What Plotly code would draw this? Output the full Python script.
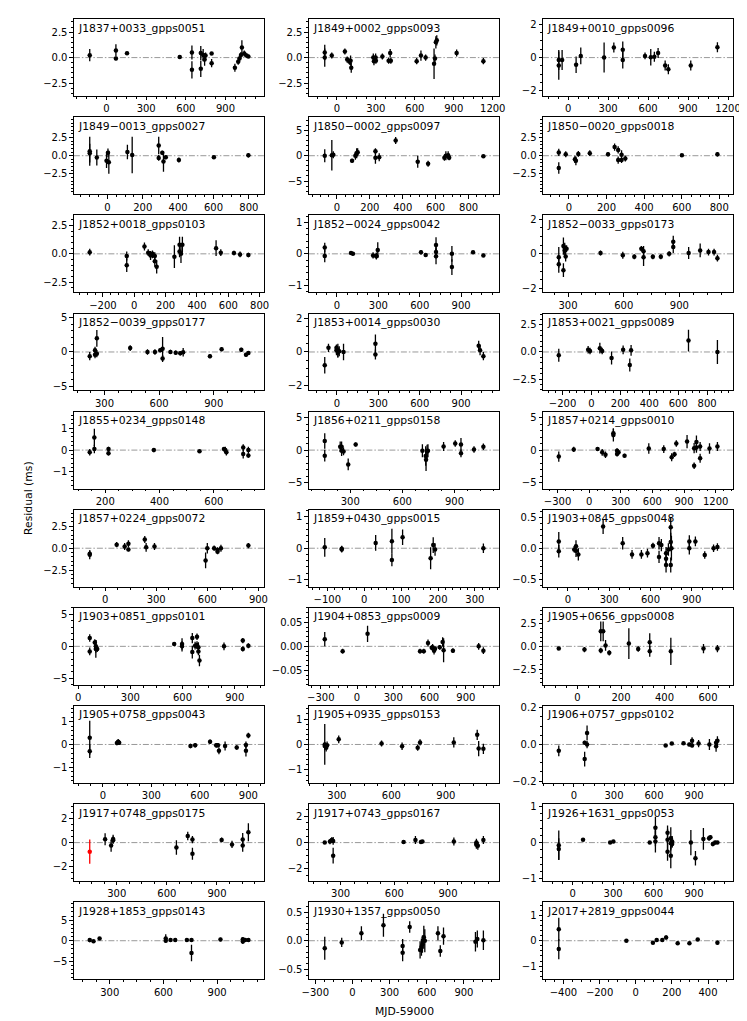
import math
import plotly.graph_objects as go

names = ["J1837+0033_gpps0051", "J1849+0002_gpps0093", "J1849+0010_gpps0096",
         "J1849\u22120013_gpps0027", "J1850\u22120002_gpps0097", "J1850\u22120020_gpps0018",
         "J1852+0018_gpps0103", "J1852\u22120024_gpps0042", "J1852\u22120033_gpps0173",
         "J1852\u22120039_gpps0177", "J1853+0014_gpps0030", "J1853+0021_gpps0089",
         "J1855+0234_gpps0148", "J1856+0211_gpps0158", "J1857+0214_gpps0010",
         "J1857+0224_gpps0072", "J1859+0430_gpps0015", "J1903+0845_gpps0048",
         "J1903+0851_gpps0101", "J1904+0853_gpps0009", "J1905+0656_gpps0008",
         "J1905+0758_gpps0043", "J1905+0935_gpps0153", "J1906+0757_gpps0102",
         "J1917+0748_gpps0175", "J1917+0743_gpps0167", "J1926+1631_gpps0053",
         "J1928+1853_gpps0143", "J1930+1357_gpps0050", "J2017+2819_gpps0044"]

x01 = [-127, 71, 71, 155, 554, 646, 646, 713, 713, 731, 742, 749, 795, 795, 971, 996, 1006, 1017, 1024, 1042, 1059, 1073]
y01 = [0.24, 0.7, -0.1, 0.43, 0.05, 0.5, -1.2, 0.45, -1.1, 0.25, -0.2, 0.2, 0.4, -0.55, -1.0, -0.4, -0.1, 0.25, 1.0, 0.4, 0.2, 0.1]
e01 = [0.6, 0.6, 0.15, 0.15, 0.15, 0.7, 0.85, 0.7, 0.8, 0.6, 0.6, 0.3, 0.15, 0.4, 0.4, 0.3, 0.3, 0.3, 0.7, 0.3, 0.2, 0.15]

x02 = [-94, -94, -40, 61, 79, 97, 105, 110, 280, 285, 298, 300, 350, 398, 410, 415, 614, 647, 683, 748, 755, 762, 769, 922, 1128]
y02 = [0.5, 0.0, 0.2, 0.6, -0.2, -0.4, -0.3, -1.0, 0.0, -0.35, 0.0, -0.3, 0.1, -0.3, 0.45, -0.3, -0.35, 0.2, 0.0, -0.6, -0.1, 1.5, 1.7, 0.45, -0.35]
e02 = [0.75, 0.9, 0.3, 0.3, 0.3, 0.3, 0.5, 0.5, 0.4, 0.4, 0.4, 0.3, 0.3, 0.3, 0.4, 0.3, 0.3, 0.5, 0.3, 1.5, 0.4, 0.6, 0.5, 0.35, 0.3]

x03 = [-70, -70, -45, 60, 95, 270, 343, 410, 410, 577, 620, 647, 675, 728, 752, 920, 1120]
y03 = [-0.48, -0.14, -0.14, -0.43, 0.1, 0.0, 0.6, 0.47, -0.15, 0.1, 0.02, 0.05, 0.27, -0.48, -0.7, -0.47, 0.62]
e03 = [0.85, 0.6, 0.6, 0.5, 0.5, 0.9, 0.3, 0.5, 0.5, 0.2, 0.5, 0.3, 0.3, 0.3, 0.3, 0.3, 0.3]

x04 = [-100, -100, -60, -5, 3, 8, 113, 140, 290, 290, 310, 317, 330, 404, 602, 797]
y04 = [0.6, 0.35, -0.25, -0.7, 0.4, -0.9, 0.5, 0.1, 1.4, -0.3, 0.4, -0.8, -0.2, -0.6, -0.2, 0.05]
e04 = [2.0, 1.3, 1.1, 1.0, 0.6, 1.6, 1.0, 2.5, 1.2, 0.4, 0.3, 1.4, 0.3, 0.35, 0.2, 0.3]

x05 = [-74, -31, -22, 92, 112, 120, 126, 234, 234, 257, 357, 491, 554, 653, 662, 676, 682, 890]
y05 = [0.0, 0.1, 0.2, -1.0, 0.0, 0.5, 0.7, 0.9, -0.4, -0.3, 3.0, -1.2, -1.6, -0.4, 0.0, 0.1, -0.4, -0.1]
e05 = [1.3, 3.0, 0.7, 0.4, 0.8, 1.0, 0.8, 0.6, 1.2, 0.8, 0.7, 1.2, 0.6, 0.6, 0.9, 0.8, 0.5, 0.3]

x06 = [-54, -54, -17, 32, 37, 50, 111, 208, 243, 262, 262, 280, 280, 300, 601, 790]
y06 = [0.45, -1.7, 0.2, -0.5, -0.7, 0.25, 0.35, 0.2, 1.2, 0.8, -0.6, 0.15, -0.6, -0.4, 0.05, 0.2]
e06 = [0.5, 0.8, 0.4, 0.5, 0.6, 0.4, 0.4, 0.3, 0.5, 0.5, 0.5, 0.6, 0.4, 0.4, 0.15, 0.3]

x07 = [-284, -48, -48, 65, 89, 104, 116, 116, 131, 131, 143, 256, 289, 289, 298, 307, 522, 552, 636, 675, 728]
y07 = [0.15, -0.2, -1.0, 0.65, 0.1, -0.15, 0.0, -0.1, -0.2, -0.65, -1.15, -0.25, 0.8, 0.2, 0.0, 0.8, 0.5, 0.1, 0.08, -0.05, -0.1]
e07 = [0.3, 0.4, 0.6, 0.35, 0.3, 0.4, 0.3, 0.3, 0.35, 0.5, 0.6, 1.0, 0.7, 0.5, 0.8, 0.7, 0.7, 0.3, 0.2, 0.25, 0.2]

x08 = [-88, -88, 102, 116, 262, 286, 286, 296, 609, 643, 718, 718, 718, 833, 833, 986, 1061]
y08 = [0.2, -0.07, 0.03, 0.0, -0.05, -0.08, -0.06, 0.12, 0.05, -0.04, 0.28, 0.06, -0.08, 0.0, -0.42, 0.05, -0.05]
e08 = [0.15, 0.2, 0.05, 0.05, 0.1, 0.1, 0.1, 0.25, 0.07, 0.05, 0.25, 0.2, 0.25, 0.25, 0.25, 0.05, 0.05]

x09 = [250, 250, 275, 275, 282, 282, 287, 292, 475, 595, 657, 695, 707, 707, 757, 800, 845, 867, 867, 950, 1012, 1057, 1087, 1105]
y09 = [-0.2, -0.6, 0.45, -0.95, 0.35, 0.2, -0.15, 0.3, 0.05, -0.08, -0.17, 0.3, 0.15, -0.2, -0.17, -0.17, 0.0, 0.4, 0.7, 0.05, 0.2, 0.1, 0.1, -0.25]
e09 = [0.6, 0.5, 0.5, 0.4, 0.3, 0.3, 0.3, 0.2, 0.15, 0.2, 0.15, 0.15, 0.3, 0.5, 0.15, 0.15, 0.15, 0.35, 0.35, 0.35, 0.4, 0.2, 0.2, 0.2]

x10 = [219, 248, 248, 258, 258, 441, 536, 577, 606, 619, 619, 662, 691, 716, 732, 879, 943, 1051, 1077, 1090]
y10 = [-0.6, 0.25, -0.4, 1.95, -0.25, 0.55, 0.0, 0.0, 0.25, 0.45, -0.95, 0.0, -0.1, -0.2, -0.05, -0.6, 0.4, 0.3, -0.4, -0.15]
e10 = [0.6, 0.5, 0.5, 1.2, 0.5, 0.4, 0.4, 0.4, 0.3, 1.7, 0.5, 0.3, 0.3, 0.3, 0.6, 0.3, 0.3, 0.3, 0.3, 0.3]

x11 = [-88, -61, -3, -3, 7, 7, 17, 48, 279, 279, 1027, 1037, 1061]
y11 = [-0.8, 0.25, 0.1, 0.25, -0.05, 0.1, 0.05, 0.0, 0.5, -0.15, 0.37, 0.1, -0.25]
e11 = [0.5, 0.25, 0.3, 0.2, 0.3, 0.4, 0.3, 0.5, 0.55, 0.3, 0.3, 0.3, 0.25]

x12 = [-226, -23, -10, 58, 74, 139, 219, 265, 274, 671, 871]
y12 = [-0.3, 0.2, 0.1, 0.35, 0.1, -0.55, 0.2, -1.2, 0.15, 1.05, 0.0]
e12 = [0.6, 0.35, 0.3, 0.5, 0.3, 0.6, 0.4, 0.6, 0.5, 1.0, 1.1]

x13 = [143, 160, 160, 212, 212, 379, 547, 637, 642, 646, 708, 708, 727, 727]
y13 = [-0.1, 0.58, 0.05, 0.05, -0.15, 0.0, -0.05, 0.05, 0.0, -0.1, 0.12, -0.18, 0.0, -0.25]
e13 = [0.15, 0.4, 0.2, 0.1, 0.1, 0.1, 0.07, 0.07, 0.15, 0.15, 0.15, 0.2, 0.15, 0.1]

x14 = [153, 153, 242, 250, 250, 261, 288, 331, 715, 734, 736, 742, 747, 837, 904, 937, 937, 1012, 1066]
y14 = [-0.85, 1.4, 0.5, 0.5, -0.1, -0.2, -2.2, 0.85, -0.1, -0.9, -1.5, -0.2, -0.1, 0.55, 1.0, 0.85, -0.5, 0.1, 0.5]
e14 = [0.9, 1.2, 0.8, 0.8, 0.8, 0.6, 0.9, 0.3, 1.0, 1.5, 1.7, 1.0, 1.0, 0.7, 0.5, 1.0, 0.6, 0.5, 0.5]

x15 = [-288, -146, 80, 124, 155, 230, 230, 265, 265, 279, 336, 566, 708, 783, 810, 827, 929, 996, 996, 1018, 1018, 1053, 1053, 1142, 1217]
y15 = [-1.0, 0.1, 0.15, -0.35, -0.7, 2.6, 2.3, -0.6, -0.1, -0.35, -0.85, 0.25, 0.15, -1.1, -0.65, 1.0, 1.3, 0.3, -2.4, 1.25, 0.4, 0.55, -1.25, 0.25, 0.55]
e15 = [0.8, 0.4, 0.3, 0.5, 0.5, 0.7, 1.0, 0.4, 0.4, 0.4, 0.3, 0.8, 0.6, 0.6, 0.4, 0.5, 1.0, 0.8, 0.5, 1.0, 0.8, 0.7, 0.7, 0.8, 0.7]

x16 = [-90, -90, 68, 115, 137, 137, 233, 241, 290, 590, 600, 640, 660, 660, 680, 841]
y16 = [-0.64, -0.75, 0.4, 0.2, 0.5, -0.15, 1.0, 0.1, 0.2, -1.4, 0.0, 0.0, -0.4, -0.2, 0.0, 0.3]
e16 = [0.4, 0.5, 0.3, 0.4, 0.4, 0.2, 0.4, 0.5, 0.4, 0.9, 0.6, 0.3, 0.3, 0.3, 0.4, 0.3]

x17 = [-107, -61, -61, 31, 75, 75, 104, 180, 187, 192, 323]
y17 = [0.03, -0.02, -0.04, 0.17, 0.22, -0.38, 0.35, -0.32, 0.1, -0.04, 0.0]
e17 = [0.3, 0.1, 0.1, 0.25, 0.4, 0.2, 0.25, 0.35, 0.25, 0.2, 0.15]

x18 = [-66, -66, 46, 59, 59, 76, 256, 398, 466, 534, 578, 618, 662, 662, 679, 713, 713, 713, 730, 747, 747, 747, 752, 882, 882, 926, 994, 1058, 1086]
y18 = [0.11, -0.05, -0.02, 0.03, -0.04, -0.1, 0.35, 0.08, -0.1, -0.1, -0.08, 0.04, 0.08, -0.14, 0.05, -0.08, -0.17, -0.27, -0.02, 0.1, -0.27, 0.34, 0.0, 0.11, 0.0, 0.11, -0.11, 0.0, 0.02]
e18 = [0.15, 0.1, 0.05, 0.1, 0.1, 0.1, 0.12, 0.1, 0.07, 0.07, 0.07, 0.05, 0.1, 0.1, 0.1, 0.1, 0.12, 0.12, 0.1, 0.15, 0.12, 0.15, 0.2, 0.1, 0.1, 0.08, 0.06, 0.06, 0.06]

x19 = [67, 67, 96, 102, 102, 110, 552, 597, 597, 656, 656, 672, 683, 683, 691, 691, 697, 838, 946, 946, 978]
y19 = [1.3, -0.8, 0.6, 0.0, -0.4, -0.4, 0.35, 0.35, 0.0, 1.3, -0.9, 0.1, 1.5, 0.2, -0.15, -0.8, -2.2, 0.0, 0.9, -0.4, 0.1]
e19 = [0.6, 0.6, 0.5, 1.0, 1.4, 0.5, 0.3, 0.9, 0.8, 0.8, 1.0, 0.6, 0.5, 0.6, 0.8, 0.6, 0.9, 0.6, 0.4, 0.4, 0.4]

x20 = [-267, -119, 87, 521, 552, 587, 618, 625, 637, 645, 684, 708, 716, 793, 1006, 1045]
y20 = [0.015, -0.01, 0.026, -0.01, -0.01, 0.007, -0.003, -0.002, -0.009, -0.005, -0.002, 0.009, -0.008, -0.009, 0.0, -0.009]
e20 = [0.015, 0.005, 0.017, 0.005, 0.005, 0.007, 0.005, 0.007, 0.008, 0.005, 0.005, 0.01, 0.025, 0.005, 0.007, 0.007]

x21 = [-86, 32, 107, 107, 118, 129, 146, 236, 279, 332, 332, 429, 579, 643]
y21 = [-0.25, -0.36, 1.65, -0.45, 1.65, 0.1, -0.72, 0.3, -0.3, 0.45, -0.55, -0.55, -0.25, -0.25]
e21 = [0.15, 0.3, 1.1, 0.3, 1.1, 0.6, 0.3, 1.7, 0.3, 1.0, 0.6, 1.5, 0.5, 0.4]

x22 = [-81, -81, 87, 95, 101, 542, 571, 663, 701, 712, 718, 756, 828, 885, 885, 900]
y22 = [0.3, -0.3, 0.07, 0.12, 0.08, -0.07, -0.03, 0.12, -0.04, -0.03, -0.28, -0.07, -0.13, -0.02, -0.28, 0.4]
e22 = [0.75, 0.3, 0.1, 0.12, 0.1, 0.1, 0.1, 0.1, 0.1, 0.1, 0.15, 0.2, 0.1, 0.15, 0.25, 0.12]

x23 = [233, 233, 241, 246, 310, 546, 659, 745, 758, 944, 1073, 1081, 1107]
y23 = [0.0, -0.06, -0.13, -0.03, 0.2, 0.04, -0.07, -0.13, 0.08, 0.08, 0.38, -0.16, -0.17]
e23 = [0.8, 0.15, 0.15, 0.15, 0.15, 0.12, 0.15, 0.12, 0.12, 0.2, 0.2, 0.3, 0.2]

x24 = [-114, 80, 80, 98, 98, 687, 733, 821, 864, 885, 885, 934, 1015, 1065, 1065, 1075]
y24 = [-0.035, 0.01, -0.08, 0.063, 0.0, -0.005, 0.005, 0.006, 0.0, 0.02, -0.005, 0.005, 0.0, -0.01, 0.01, 0.02]
e24 = [0.03, 0.01, 0.04, 0.04, 0.02, 0.005, 0.005, 0.005, 0.01, 0.02, 0.01, 0.02, 0.03, 0.03, 0.02, 0.025]

x25 = [230, 266, 278, 278, 657, 725, 753, 753, 928, 990, 1054, 1054, 1088]
y25 = [0.28, -0.25, 0.3, 0.2, -0.4, 0.55, 0.25, -0.92, 0.22, -0.15, -0.25, 0.25, 0.85]
e25 = [0.5, 0.5, 0.35, 0.3, 0.6, 0.35, 0.3, 0.5, 0.2, 0.3, 0.5, 0.55, 0.75]
x25_red = [138]
y25_red = [-0.75]
e25_red = [1.0]

x26 = [211, 240, 250, 258, 258, 652, 718, 749, 757, 933, 1059, 1059, 1059, 1067, 1098]
y26 = [0.0, 0.08, 0.2, 0.13, -1.0, 0.05, 0.2, 0.05, 0.08, 0.08, 0.0, -0.1, -0.17, -0.25, 0.2]
e26 = [0.1, 0.2, 0.2, 0.3, 0.6, 0.1, 0.3, 0.1, 0.1, 0.3, 0.3, 0.3, 0.3, 0.3, 0.3]

x27 = [-103, -103, 77, 278, 302, 572, 614, 614, 614, 704, 704, 704, 728, 728, 728, 738, 738, 877, 911, 970, 1012, 1022, 1040, 1057, 1074]
y27 = [-0.07, -0.18, 0.08, 0.0, 0.03, 0.0, 0.41, 0.15, 0.03, 0.27, 0.08, -0.25, 0.12, -0.36, -0.02, 0.03, -0.04, 0.0, -0.43, 0.1, 0.12, 0.15, -0.04, 0.0, 0.0]
e27 = [0.4, 0.3, 0.03, 0.03, 0.03, 0.03, 0.3, 0.25, 0.3, 0.2, 0.3, 0.25, 0.3, 0.35, 0.2, 0.15, 0.1, 0.35, 0.2, 0.3, 0.07, 0.05, 0.06, 0.05, 0.04]

x28 = [188, 209, 243, 613, 613, 640, 666, 731, 757, 757, 919, 1044, 1044, 1057, 1075]
y28 = [0.15, -0.1, 0.55, 0.55, 0.0, 0.15, 0.15, 0.15, 0.15, -3.0, 0.3, 0.35, -0.2, 0.15, 0.2]
e28 = [0.5, 0.3, 0.3, 1.0, 0.4, 0.3, 0.3, 0.3, 0.3, 2.0, 0.4, 0.5, 0.6, 0.3, 0.3]

x29 = [-224, -87, 72, 250, 405, 405, 462, 546, 557, 565, 576, 584, 690, 709, 735, 993, 1008, 1057]
y29 = [-0.13, -0.03, 0.13, 0.27, -0.09, -0.21, 0.24, -0.16, -0.11, -0.06, 0.06, 0.0, 0.13, -0.18, 0.08, -0.02, 0.03, 0.01]
e29 = [0.2, 0.08, 0.12, 0.2, 0.12, 0.15, 0.1, 0.15, 0.15, 0.15, 0.2, 0.2, 0.12, 0.1, 0.15, 0.17, 0.15, 0.17]

x30 = [-426, -426, -52, 95, 116, 147, 168, 232, 297, 343, 452]
y30 = [0.45, -0.33, 0.0, -0.08, 0.03, 0.03, 0.13, -0.1, -0.1, 0.05, -0.08]
e30 = [0.45, 0.4, 0.05, 0.06, 0.08, 0.08, 0.08, 0.07, 0.07, 0.05, 0.08]

# symmetric y-limits, major y tick step and x tick labels for each panel
ylims = [3.78, 3.78, 2.31, 5.3, 7.6, 5.3, 3.4, 1.22, 2.23, 5.5, 2.31, 3.55, 1.76, 5.9, 5.9,
         4.4, 1.23, 0.62, 6.0, 0.080, 4.24, 1.7, 1.51, 0.21, 3.17, 2.93, 1.06, 9.35, 0.67, 1.51]
ysteps = [2.5, 2.5, 2, 2.5, 5, 2.5, 2.5, 1, 2, 5, 2, 2.5, 1, 5, 5,
          2.5, 1, 0.5, 5, 0.05, 2.5, 1, 1, 0.2, 2, 2, 1, 5, 0.5, 1]
xticks = [[0, 300, 600, 900], [0, 300, 600, 900, 1200], [0, 300, 600, 900, 1200],
          [0, 200, 400, 600, 800], [0, 200, 400, 600, 800], [0, 200, 400, 600, 800],
          [-200, 0, 200, 400, 600, 800], [0, 300, 600, 900], [300, 600, 900],
          [300, 600, 900], [0, 300, 600, 900], [-200, 0, 200, 400, 600, 800],
          [200, 400, 600], [300, 600, 900], [-300, 0, 300, 600, 900, 1200],
          [0, 300, 600, 900], [-100, 0, 100, 200, 300], [0, 300, 600, 900],
          [0, 300, 600, 900], [-300, 0, 300, 600, 900], [0, 200, 400, 600],
          [0, 300, 600, 900], [300, 600, 900], [0, 300, 600, 900],
          [300, 600, 900], [300, 600, 900], [0, 300, 600, 900],
          [300, 600, 900], [-300, 0, 300, 600, 900], [-400, -200, 0, 200, 400]]

X = [x01, x02, x03, x04, x05, x06, x07, x08, x09, x10, x11, x12, x13, x14, x15,
     x16, x17, x18, x19, x20, x21, x22, x23, x24, x25, x26, x27, x28, x29, x30]
Y = [y01, y02, y03, y04, y05, y06, y07, y08, y09, y10, y11, y12, y13, y14, y15,
     y16, y17, y18, y19, y20, y21, y22, y23, y24, y25, y26, y27, y28, y29, y30]
E = [e01, e02, e03, e04, e05, e06, e07, e08, e09, e10, e11, e12, e13, e14, e15,
     e16, e17, e18, e19, e20, e21, e22, e23, e24, e25, e26, e27, e28, e29, e30]

W, H = 747, 1021
col_px = [(60, 254), (299.5, 493.5), (538, 732)]
row_top0, row_pitch, row_h = 7.2, 98.9, 77.5
FONT = "DejaVu Sans"


def minor_step(step):
    m = 10 ** (math.log10(step) % 1)
    nd = 5 if any(abs(m - v) < 1e-6 for v in (1.0, 2.5, 5.0, 10.0)) else 4
    return step / nd


fig = go.Figure()
layout = {}
shapes = []
annotations = []

for i in range(30):
    r, c = divmod(i, 3)
    nm = "" if i == 0 else str(i + 1)
    xs, ys, es = list(X[i]), list(Y[i]), list(E[i])
    allx = xs + (x25_red if i == 24 else [])
    lo, hi = min(allx), max(allx)
    pad = 0.1 * (hi - lo)

    fig.add_trace(go.Scatter(
        x=xs, y=ys, mode="markers",
        marker=dict(color="black", size=4.5),
        error_y=dict(type="data", array=es, visible=True, color="black",
                     thickness=1.3, width=0),
        xaxis="x" + nm, yaxis="y" + nm, showlegend=False, hoverinfo="skip"))
    if i == 24:
        fig.add_trace(go.Scatter(
            x=x25_red, y=y25_red, mode="markers",
            marker=dict(color="red", size=4.5),
            error_y=dict(type="data", array=e25_red, visible=True, color="red",
                         thickness=1.3, width=0),
            xaxis="x" + nm, yaxis="y" + nm, showlegend=False, hoverinfo="skip"))

    x0, x1 = col_px[c]
    top = row_top0 + r * row_pitch
    bot = top + row_h
    xstep = xticks[i][1] - xticks[i][0]
    ystep = ysteps[i]
    yl = ylims[i]
    if ystep in (2.5, 0.5, 0.2):
        yfmt = ".1f"
    elif ystep == 0.05:
        yfmt = ".2f"
    else:
        yfmt = "d"
    yvals = [-ystep, 0, ystep]

    common = dict(showline=True, mirror=True, linecolor="black", linewidth=0.8,
                  ticks="outside", ticklen=3.5, tickwidth=0.8, tickcolor="black",
                  showgrid=False, zeroline=False,
                  tickfont=dict(family=FONT, size=10, color="black"))
    layout["xaxis" + nm] = dict(
        domain=[x0 / W, x1 / W], anchor="y" + nm,
        range=[lo - pad, hi + pad], tickmode="array", tickvals=xticks[i],
        minor=dict(ticks="outside", ticklen=2, tickwidth=0.6, tickcolor="black",
                   tickmode="linear", tick0=0, dtick=minor_step(xstep), showgrid=False),
        **common)
    layout["yaxis" + nm] = dict(
        domain=[1 - bot / H, 1 - top / H], anchor="x" + nm,
        range=[-yl, yl], tickmode="array", tickvals=yvals, tickformat=yfmt,
        minor=dict(ticks="outside", ticklen=2, tickwidth=0.6, tickcolor="black",
                   tickmode="linear", tick0=0, dtick=minor_step(ystep), showgrid=False),
        **common)

    shapes.append(dict(type="line", xref="x" + nm + " domain", yref="y" + nm,
                       x0=0, x1=1, y0=0, y1=0, layer="below",
                       line=dict(color="#999999", width=1, dash="6px,2px,1.5px,2px")))
    annotations.append(dict(text=names[i], xref="x" + nm + " domain",
                            yref="y" + nm + " domain", x=0.012, y=0.995,
                            xanchor="left", yanchor="top", showarrow=False,
                            font=dict(family=FONT, size=10.8, color="black")))

annotations.append(dict(text="Residual (ms)", xref="paper", yref="paper",
                        x=13 / W, y=1 - 490 / H, textangle=-90, showarrow=False,
                        xanchor="center", yanchor="middle",
                        font=dict(family=FONT, size=10.8, color="black")))
annotations.append(dict(text="MJD-59000", xref="paper", yref="paper",
                        x=396.5 / W, y=1 - 1007 / H, showarrow=False,
                        xanchor="center", yanchor="middle",
                        font=dict(family=FONT, size=10.8, color="black")))

fig.update_layout(width=W, height=H, autosize=False,
                  margin=dict(l=0, r=0, t=0, b=0),
                  paper_bgcolor="white", plot_bgcolor="white",
                  shapes=shapes, annotations=annotations,
                  font=dict(family=FONT, color="black"), **layout)

fig.write_html("out.html")
